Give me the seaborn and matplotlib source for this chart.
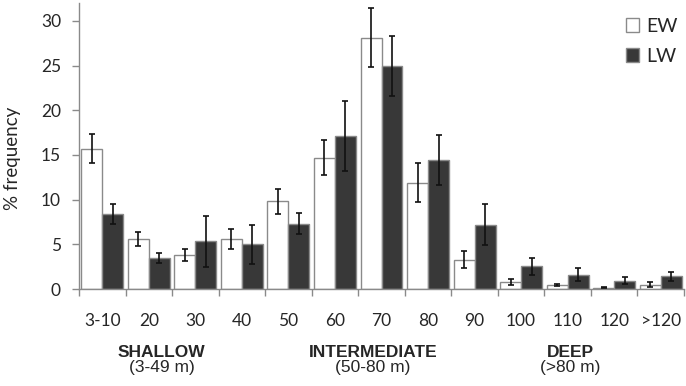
import matplotlib
matplotlib.use("Agg")
import matplotlib.pyplot as plt
import seaborn as sns
import pandas as pd
import numpy as np

categories = ["3-10", "20", "30", "40", "50", "60", "70", "80", "90", "100", "110", "120", ">120"]
ew_values = [15.7, 5.6, 3.8, 5.6, 9.8, 14.7, 28.1, 11.9, 3.3, 0.8, 0.45, 0.15, 0.5]
ew_errors = [1.65, 0.75, 0.7, 1.15, 1.4, 1.95, 3.3, 2.2, 0.9, 0.3, 0.15, 0.05, 0.3]
lw_values = [8.4, 3.5, 5.35, 5.0, 7.3, 17.1, 25.0, 14.4, 7.2, 2.55, 1.6, 0.95, 1.4]
lw_errors = [1.1, 0.55, 2.85, 2.15, 1.2, 3.9, 3.35, 2.8, 2.3, 0.95, 0.75, 0.37, 0.55]
series = ["EW", "LW"]
group_labels = ["SHALLOW", "INTERMEDIATE", "DEEP"]
group_ranges = ["(3-49 m)", "(50-80 m)", "(>80 m)"]
group_centers = [1.28, 5.82, 10.05]

df = pd.DataFrame({
    "depth": categories * 2,
    "value": ew_values + lw_values,
    "err": ew_errors + lw_errors,
    "series": ["EW"] * len(categories) + ["LW"] * len(categories),
})

sns.set_style("white")
plt.rcParams["font.family"] = ["Lato", "DejaVu Sans"]

fig = plt.figure(figsize=(6.86, 3.86), dpi=100)
ax = fig.add_axes([79 / 686, 1 - 289 / 386, 605 / 686, 286 / 386])

sns.barplot(data=df, x="depth", y="value", hue="series", order=categories,
            hue_order=series, palette={"EW": "#ffffff", "LW": "#383838"},
            edgecolor="#8a8a8a", linewidth=1.0, errorbar=None, width=0.9,
            ax=ax)

err_lists = {"EW": ew_errors, "LW": lw_errors}
for container, name in zip(ax.containers, series):
    xs = [p.get_x() + p.get_width() / 2 for p in container.patches]
    hs = [p.get_height() for p in container.patches]
    ax.errorbar(xs, hs, yerr=err_lists[name], fmt="none", ecolor="#111111",
                elinewidth=1.2, capsize=2.5, capthick=1.2, zorder=5)

ax.set_xlim(-0.5, len(categories) - 0.5)
ax.set_ylim(0, 32)
ax.set_yticks([0, 5, 10, 15, 20, 25, 30])
ax.set_xlabel("")
ax.set_ylabel("% frequency", fontsize=13.5)
ax.yaxis.set_label_coords(-0.096, 0.455)

for s in ["top", "right"]:
    ax.spines[s].set_visible(False)
for s in ["left", "bottom"]:
    ax.spines[s].set_color("#8a8a8a")
    ax.spines[s].set_linewidth(1.0)

ax.set_xticks(np.arange(-0.5, len(categories), 1.0), minor=True)
ax.tick_params(axis="x", which="minor", length=5, color="#8a8a8a", width=1.0,
               direction="out", bottom=True)
ax.tick_params(axis="y", which="major", length=5, color="#8a8a8a", width=1.0,
               direction="out", left=True, labelsize=12.5, pad=8)
ax.tick_params(axis="x", which="major", length=0, labelsize=12.5, pad=23)
for t in ax.get_xticklabels():
    t.set_va("center")

for lab, rng, cx in zip(group_labels, group_ranges, group_centers):
    ax.text(cx, -0.222, lab, transform=ax.get_xaxis_transform(), ha="center",
            va="center", fontsize=12.5, fontweight="bold", family="Liberation Sans")
    ax.text(cx, -0.275, rng, transform=ax.get_xaxis_transform(), ha="center",
            va="center", fontsize=12.5, family="Liberation Sans")

handles, labels = ax.get_legend_handles_labels()
ax.legend(handles, labels, loc="upper left", bbox_to_anchor=(608 / 686, 1.0),
          bbox_transform=fig.transFigure, frameon=False, fontsize=14,
          handlelength=0.7, handleheight=0.7, handletextpad=0.35,
          labelspacing=0.7)

fig.savefig("out.png", dpi=100)
